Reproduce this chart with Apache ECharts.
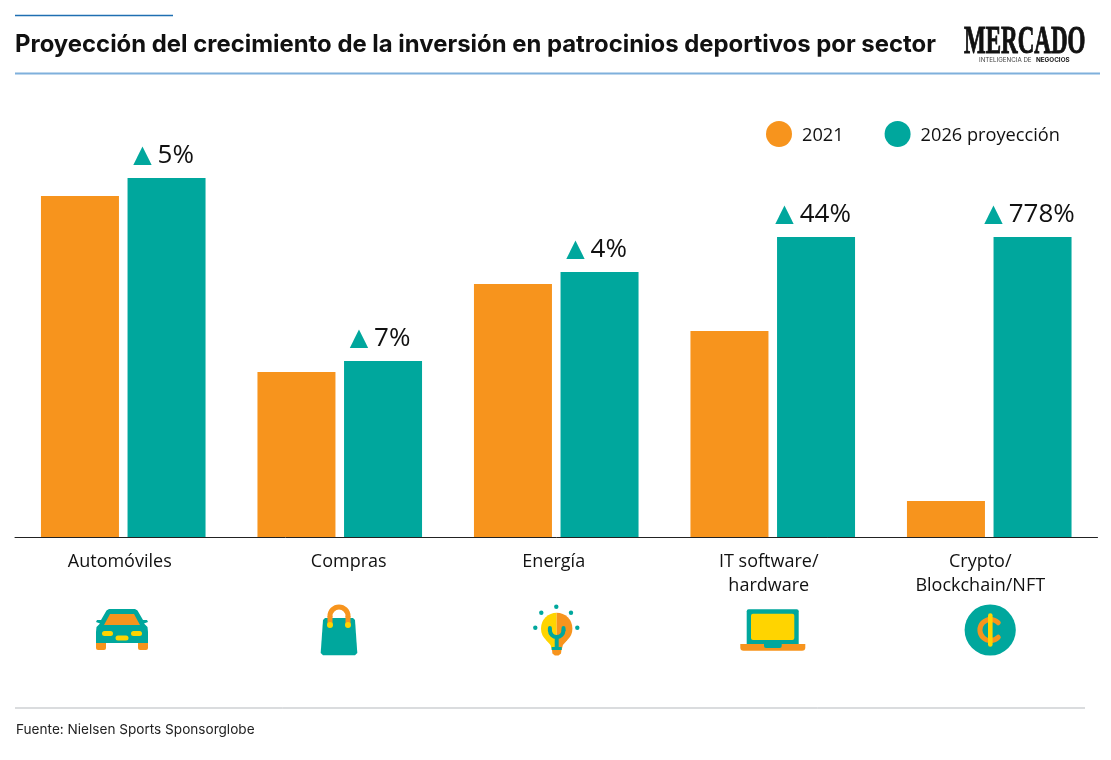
<!doctype html>
<html lang="es">
<head>
<meta charset="UTF-8">
<title>Proyección del crecimiento de la inversión en patrocinios deportivos por sector</title>
<style>html,body{margin:0;padding:0;background:#fff}#chart{width:1111px;height:760px}</style>
</head>
<body>
<div id="chart"></div>
<script src="https://cdn.jsdelivr.net/npm/echarts@6/dist/echarts.min.js"></script>
<script>
var categories = ['Automóviles', 'Compras', 'Energía', 'IT software/\nhardware', 'Crypto/\nBlockchain/NFT'];
var values2021 = [341, 165, 253, 206, 36];
var values2026 = [359, 176, 265, 300, 300];
var growthLabels = ['5%', '7%', '4%', '44%', '778%'];

var ORANGE = '#f7941d', TEAL = '#00a79d', YELLOW = '#ffd400';
var BODY_FONT = '"Open Sans", sans-serif';
var HEAD_FONT = 'Inter, sans-serif';

// the reference's captions sit a little off the bar-group centres
var labelPadding = [[0, 7, 0, 0], [0, 0, 0, 18], [0, 5, 0, 0], [0, 8, 0, 0], [0, 18, 0, 0]];

function poly(points, fill) { return {type: 'polygon', shape: {points: points}, style: {fill: fill}}; }
function dot(x, y, r, fill) { return {type: 'circle', shape: {cx: x, cy: y, r: r}, style: {fill: fill}}; }
function box(x, y, w, h, r, fill) { return {type: 'rect', shape: {x: x, y: y, width: w, height: h, r: r}, style: {fill: fill}}; }
function half(x, y, r, start, end, fill) {
    return {type: 'sector', shape: {cx: x, cy: y, r: r, startAngle: start, endAngle: end, clockwise: true}, style: {fill: fill}};
}
function arc(x, y, r, start, end, color, w) {
    return {type: 'arc', shape: {cx: x, cy: y, r: r, startAngle: start, endAngle: end, clockwise: true},
        style: {fill: 'none', stroke: color, lineWidth: w, lineCap: 'round'}};
}
function seg(x1, y1, x2, y2, color, w, cap) {
    return {type: 'line', shape: {x1: x1, y1: y1, x2: x2, y2: y2}, style: {stroke: color, lineWidth: w, lineCap: cap || 'butt'}};
}
function txt(x, y, s, font, fill, extra) {
    return Object.assign({type: 'text', x: x, y: y, style: {text: s, font: font, fill: fill, textVerticalAlign: 'middle'}}, extra || {});
}

var carIcon = {type: 'group', x: 122, y: 630, children: [
    box(-26, 10, 10, 10, 2, ORANGE), box(16, 10, 10, 10, 2, ORANGE),
    poly([[-13, -21], [13, -21], [15.5, -19.5], [21, -10], [25, -10], [26, -8], [22, -6.5], [25.5, -3], [26, 2], [26, 13],
        [-26, 13], [-26, 2], [-25.5, -3], [-22, -6.5], [-26, -8], [-25, -10], [-21, -10], [-15.5, -19.5]], TEAL),
    poly([[-12, -16], [12, -16], [18, -5], [-18, -5]], ORANGE),
    box(-20, 1, 11, 5, 2.5, YELLOW),
    box(9, 1, 11, 5, 2.5, YELLOW),
    box(-6.5, 5.5, 13, 5, 2.5, YELLOW)
]};
var bagIcon = {type: 'group', children: [
    poly([[325, 618], [353, 618], [355, 620], [357.3, 653], [355, 655.3], [323, 655.3], [320.7, 653], [323, 620]], TEAL),
    arc(339, 616, 9, Math.PI, 2 * Math.PI, ORANGE, 5),
    seg(330, 616, 330, 624, ORANGE, 5), seg(348, 616, 348, 624, ORANGE, 5),
    dot(330, 625, 3, YELLOW), dot(348, 625, 3, YELLOW)
]};
var bulbIcon = {type: 'group', children: [
    half(556.7, 628.4, 15.7, Math.PI / 2, 3 * Math.PI / 2, YELLOW),
    half(556.7, 628.4, 15.7, 3 * Math.PI / 2, 5 * Math.PI / 2, ORANGE),
    poly([[546, 640], [556.7, 640], [556.7, 650], [551.8, 650], [550.5, 645]], YELLOW),
    poly([[567.4, 640], [556.7, 640], [556.7, 650], [561.6, 650], [562.9, 645]], ORANGE),
    poly([[552, 650], [561.4, 650], [561, 653.5], [558.5, 655.4], [554.9, 655.4], [552.4, 653.5]], ORANGE),
    arc(556.7, 630.3, 6.8, 0, Math.PI, TEAL, 4),
    seg(549.9, 628, 549.9, 630.3, TEAL, 4, 'round'), seg(563.5, 628, 563.5, 630.3, TEAL, 4, 'round'),
    seg(556.7, 637, 556.7, 648, TEAL, 4),
    box(551.7, 647, 10, 3, 0, TEAL),
    dot(556.3, 606.7, 2.2, TEAL), dot(541.3, 612.7, 2.2, TEAL), dot(571, 612.7, 2.2, TEAL),
    dot(535.3, 627.7, 2.2, TEAL), dot(577.3, 627.7, 2.2, TEAL)
]};
var laptopIcon = {type: 'group', children: [
    box(746.7, 609.3, 52, 36, 2, TEAL),
    box(751, 613.7, 43.3, 26.3, 2, YELLOW),
    box(740.3, 644, 65, 6.7, [0, 0, 3.3, 3.3], ORANGE),
    box(764, 644, 17.7, 4, [0, 0, 2, 2], TEAL)
]};
var cryptoIcon = {type: 'group', children: [
    dot(990.2, 630, 25.6, TEAL),
    arc(990.5, 630, 10.6, 0.75, 2 * Math.PI - 0.75, ORANGE, 5),
    seg(990.3, 615.5, 990.3, 644.5, YELLOW, 4.6, 'round')
]};

var logo = [
    {type: 'text', x: 964, y: 42.5, scaleX: 0.59, originX: 0, style: {
        text: 'MERCADO', font: 'bold 39px "Liberation Serif", serif', fill: '#111',
        stroke: '#111', lineWidth: 1, textVerticalAlign: 'middle'
    }},
    txt(979, 60.5, 'INTELIGENCIA DE', '6.2px ' + HEAD_FONT, '#444'),
    txt(1036, 60.5, 'NEGOCIOS', 'bold 6.3px ' + HEAD_FONT, '#111')
];

var chart = echarts.init(document.getElementById('chart'), null, {renderer: 'canvas'});
var option = {
    animation: false,
    backgroundColor: '#fff',
    title: {
        text: 'Proyección del crecimiento de la inversión en patrocinios deportivos por sector',
        left: 15, top: 32.5, padding: 0,
        textStyle: {fontFamily: HEAD_FONT, fontWeight: 700, fontSize: 23.9, color: '#111'}
    },
    legend: {
        left: 766, top: 121, padding: 0, itemWidth: 26, itemHeight: 26, itemGap: 41, icon: 'circle',
        data: ['2021', '2026 proyección'],
        formatter: '{a|{name}}',
        textStyle: {
            fontFamily: BODY_FONT, fontSize: 18.2, color: '#111', padding: [0, 0, 0, 5],
            rich: {a: {fontFamily: BODY_FONT, fontSize: 18.2, color: '#111', padding: [4, 0, 0, 0]}}
        }
    },
    grid: {left: 15, right: 13.5, top: 90, bottom: 223},
    xAxis: {
        type: 'category',
        data: categories.map(function (name, i) {
            return {value: name, textStyle: {padding: labelPadding[i]}};
        }),
        axisTick: {show: false},
        axisLine: {lineStyle: {color: '#222', width: 1}},
        axisLabel: {interval: 0, margin: 13, lineHeight: 24, fontFamily: BODY_FONT, fontSize: 18, color: '#111'}
    },
    yAxis: {type: 'value', show: false, min: 0, max: 447, splitLine: {show: false}},
    series: [
        {name: '2021', type: 'bar', data: values2021, barWidth: 78, barGap: '11%', itemStyle: {color: ORANGE}},
        {
            name: '2026 proyección', type: 'bar', data: values2026, barWidth: 78, itemStyle: {color: TEAL},
            label: {
                show: true, position: 'top', distance: 9, offset: [-3, 0],
                formatter: function (params) { return '{t|▲}{v|' + growthLabels[params.dataIndex] + '}'; },
                rich: {
                    t: {fontFamily: '"DejaVu Sans"', fontSize: 24, color: TEAL, padding: [0, 6, 0, 0]},
                    v: {fontFamily: BODY_FONT, fontSize: 26, color: '#111'}
                }
            }
        }
    ],
    graphic: [
        seg(15, 15.5, 173, 15.5, '#1f6fb2', 1.5),
        seg(15, 73.5, 1100, 73.5, '#7fb0dc', 2),
        seg(15, 708, 1085, 708, '#b5b9bd', 1),
        txt(16, 729.5, 'Fuente: Nielsen Sports Sponsorglobe', '13.6px ' + HEAD_FONT, '#222'),
        carIcon, bagIcon, bulbIcon, laptopIcon, cryptoIcon
    ].concat(logo)
};
chart.setOption(option);
</script>
</body>
</html>
